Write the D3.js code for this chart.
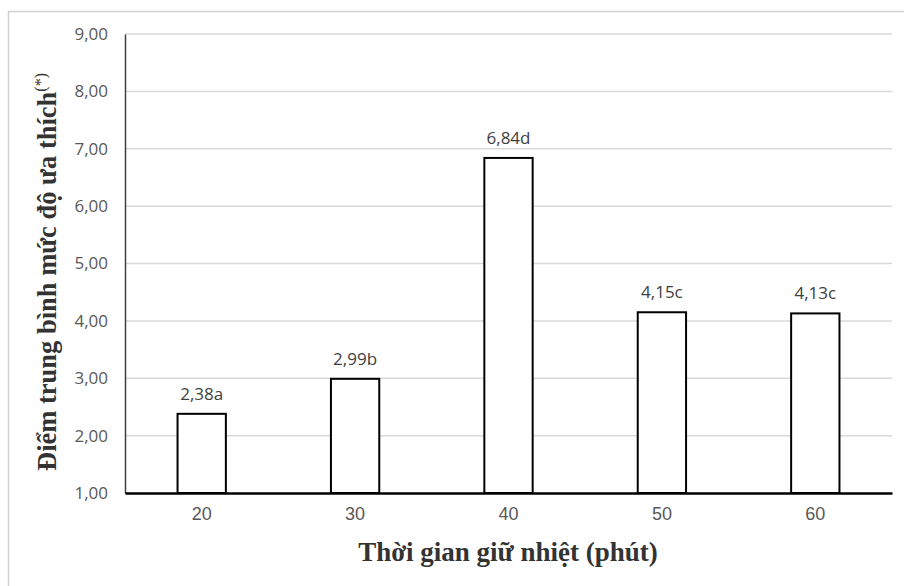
<!DOCTYPE html>
<html>
<head>
<meta charset="utf-8">
<script src="https://cdn.jsdelivr.net/npm/d3@7"></script>
<style>
  html, body { margin: 0; padding: 0; background: #fff; }
  svg { display: block; }
</style>
</head>
<body>
<svg id="chart" width="904" height="586"></svg>
<script>
const categories = ["20", "30", "40", "50", "60"];
const values = [2.38, 2.99, 6.84, 4.15, 4.13];
const letters = ["a", "b", "d", "c", "c"];
const yTicks = [1, 2, 3, 4, 5, 6, 7, 8, 9];
const xTitle = "Thời gian giữ nhiệt (phút)";
const yTitle = "Điểm trung bình mức độ ưa thích";
const yTitleSup = "(*)";

(function () {
const svg = d3.select("#chart");
const W = 904, H = 586;
const pLeft = 125, pRight = 892, pTop = 34, pBottom = 493;

svg.append("rect").attr("width", W).attr("height", H).attr("fill", "#fff");
svg.append("rect")
  .attr("x", 8.5).attr("y", 11.5).attr("width", W + 10).attr("height", H + 10)
  .attr("fill", "none").attr("stroke", "#d0d0d0").attr("stroke-width", 1.5);

const x = d3.scaleBand().domain(categories).range([pLeft, pRight])
  .paddingInner(0.685).paddingOuter(0.3425);
const y = d3.scaleLinear().domain([1, 9]).range([pBottom, pTop]);

const fmt = v => v.toFixed(2).replace(".", ",");

// gridlines
svg.append("g").selectAll("line").data(yTicks.filter(t => t > 1)).join("line")
  .attr("x1", pLeft).attr("x2", pRight)
  .attr("y1", d => y(d)).attr("y2", d => y(d))
  .attr("stroke", "#d9d9d9").attr("stroke-width", 1.5);

// y axis
const yAxis = svg.append("g").attr("transform", `translate(${pLeft},0)`)
  .call(d3.axisLeft(y).tickValues(yTicks).tickFormat(fmt).tickSize(0).tickPadding(17));
yAxis.select(".domain").attr("stroke", "#404040").attr("stroke-width", 1.5);
yAxis.selectAll("text")
  .attr("font-family", "'Open Sans', sans-serif").attr("font-size", 17)
  .attr("fill", "#595959");

// bars
svg.append("g").selectAll("rect").data(categories).join("rect")
  .attr("x", d => x(d)).attr("width", x.bandwidth())
  .attr("y", (d, i) => y(values[i])).attr("height", (d, i) => y(1) - y(values[i]))
  .attr("fill", "#fff").attr("stroke", "#000").attr("stroke-width", 2);

// x axis
const xAxis = svg.append("g").attr("transform", `translate(0,${pBottom})`)
  .call(d3.axisBottom(x).tickSize(0).tickPadding(14));
xAxis.select(".domain").attr("stroke", "#000").attr("stroke-width", 2.5);
xAxis.selectAll("text")
  .attr("font-family", "'Liberation Sans', Arial, sans-serif").attr("font-size", 18)
  .attr("fill", "#595959");

// bar labels
svg.append("g").selectAll("text").data(categories).join("text")
  .attr("x", d => x(d) + x.bandwidth() / 2)
  .attr("y", (d, i) => y(values[i]) - 14)
  .attr("text-anchor", "middle")
  .attr("font-family", "'Open Sans', sans-serif").attr("font-size", 17)
  .attr("fill", "#404040")
  .text((d, i) => fmt(values[i]) + letters[i]);

// x title
svg.append("text")
  .attr("x", 508).attr("y", 561)
  .attr("text-anchor", "middle")
  .attr("font-family", "'Liberation Serif', 'Times New Roman', serif")
  .attr("font-weight", "bold").attr("font-size", 27)
  .attr("fill", "#333")
  .text(xTitle);

// y title
const yt = svg.append("text")
  .attr("transform", "translate(56,272) rotate(-90)")
  .attr("text-anchor", "middle")
  .attr("font-family", "'Liberation Serif', 'Times New Roman', serif")
  .attr("font-weight", "bold").attr("font-size", 26.5)
  .attr("fill", "#333");
yt.append("tspan").text(yTitle);
yt.append("tspan").attr("font-size", 16).attr("font-weight", "normal").attr("dy", -10).text(yTitleSup);
})();
</script>
</body>
</html>
